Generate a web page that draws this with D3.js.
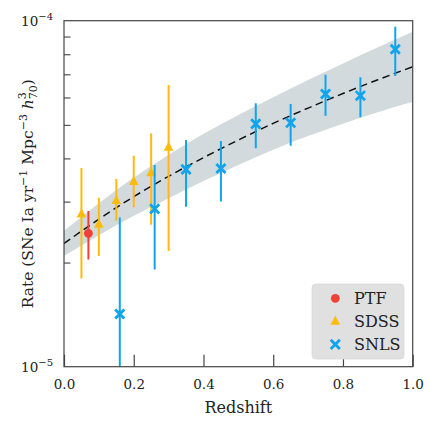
<!DOCTYPE html>
<html><head><meta charset="utf-8">
<script src="https://cdn.jsdelivr.net/npm/d3@7"></script>
<style>body{margin:0;background:#fff}svg{display:block}text{font-family:"DejaVu Serif",serif;fill:#222}</style>
</head><body><svg id="c" width="439" height="434"></svg>
<script>
// ---- data ----
const ptfZ=[0.07], ptfRate=[2.43e-5], ptfLo=[2.04e-5], ptfHi=[2.82e-5];
const sdssZ=[0.05,0.10,0.15,0.20,0.25,0.30];
const sdssRate=[2.77e-5,2.59e-5,3.03e-5,3.44e-5,3.65e-5,4.32e-5];
const sdssLo=[1.80e-5,2.09e-5,2.64e-5,2.89e-5,2.57e-5,2.16e-5];
const sdssHi=[3.75e-5,3.08e-5,3.49e-5,4.07e-5,4.73e-5,6.52e-5];
const snlsZ=[0.16,0.26,0.35,0.45,0.55,0.65,0.75,0.85,0.95];
const snlsRate=[1.42e-5,2.86e-5,3.72e-5,3.74e-5,5.03e-5,5.07e-5,6.14e-5,6.07e-5,8.27e-5];
const snlsLo=[0.80e-5,1.91e-5,2.90e-5,3.00e-5,4.28e-5,4.35e-5,5.31e-5,5.26e-5,6.92e-5];
const snlsHi=[2.70e-5,3.83e-5,4.52e-5,4.49e-5,5.77e-5,5.74e-5,6.98e-5,6.86e-5,9.61e-5];
const fitZ=[0,0.1,0.2,0.3,0.4,0.5,0.6,0.7,0.8,0.9,1.0];
const fitRate=[2.27e-5,2.67e-5,3.10e-5,3.55e-5,4.02e-5,4.52e-5,5.05e-5,5.59e-5,6.16e-5,6.75e-5,7.36e-5];
const bandLo=[2.09e-5,2.40e-5,2.73e-5,3.07e-5,3.44e-5,3.83e-5,4.24e-5,4.64e-5,5.04e-5,5.44e-5,5.83e-5];
const bandHi=[2.47e-5,2.97e-5,3.52e-5,4.10e-5,4.71e-5,5.34e-5,6.01e-5,6.74e-5,7.52e-5,8.38e-5,9.29e-5];
const xTicks=[0,0.2,0.4,0.6,0.8,1.0];
const yMajor=[1e-5,1e-4];
const yMajorExp=["\u22125","\u22124"];
const yMinor=[2e-5,3e-5,4e-5,5e-5,6e-5,7e-5,8e-5,9e-5];
const legendLabels=["PTF","SDSS","SNLS"];
const colors={PTF:"#ef4136",SDSS:"#fdbb0e",SNLS:"#10a4ec"};

// ---- layout ----
const L=64,R=412.7,T=20.7,B=366.7;
const svg=d3.select("#c");
const x=d3.scaleLinear().domain([0,1]).range([L,R]);
const y=d3.scaleLog().domain([1e-5,1e-4]).range([B,T]);

svg.append("defs").append("clipPath").attr("id","clip")
  .append("rect").attr("x",L).attr("y",T).attr("width",R-L).attr("height",B-T);
const plot=svg.append("g").attr("clip-path","url(#clip)");

// band
const bandData=fitZ.map((z,i)=>({z,lo:bandLo[i],hi:bandHi[i]}));
plot.append("path").datum(bandData)
  .attr("d",d3.area().x(d=>x(d.z)).y0(d=>y(d.lo)).y1(d=>y(d.hi)).curve(d3.curveMonotoneX))
  .attr("fill","#d3dadd");
// fit line
const fitData=fitZ.map((z,i)=>({z,r:fitRate[i]}));
plot.append("path").datum(fitData)
  .attr("d",d3.line().x(d=>x(d.z)).y(d=>y(d.r)).curve(d3.curveMonotoneX))
  .attr("fill","none").attr("stroke","#111").attr("stroke-width",1.5).attr("stroke-dasharray","7.5,4.5");

function series(zs,rs,los,his,name){
  const c=colors[name];
  const data=zs.map((z,i)=>({z,r:rs[i],lo:los[i],hi:his[i]}));
  const g=plot.append("g");
  g.selectAll("line.eb").data(data).join("line").attr("class","eb")
    .attr("x1",d=>x(d.z)).attr("x2",d=>x(d.z))
    .attr("y1",d=>y(d.lo)).attr("y2",d=>y(d.hi))
    .attr("stroke",c).attr("stroke-width",2);
  g.selectAll("g.m").data(data).join("g").attr("class","m")
    .attr("transform",d=>`translate(${x(d.z)},${y(d.r)})`)
    .each(function(){marker(d3.select(this),name);});
}
function marker(sel,name){
  const c=colors[name];
  if(name==="PTF") sel.append("circle").attr("r",4.4).attr("fill",c);
  else if(name==="SDSS") sel.append("path").attr("d","M0,-5.2L4.8,4L-4.8,4Z").attr("fill",c);
  else sel.append("path").attr("d","M-4.6,-4.6L4.6,4.6M-4.6,4.6L4.6,-4.6")
    .attr("stroke",c).attr("stroke-width",2.8).attr("fill","none");
}
series(sdssZ,sdssRate,sdssLo,sdssHi,"SDSS");
series(ptfZ,ptfRate,ptfLo,ptfHi,"PTF");
series(snlsZ,snlsRate,snlsLo,snlsHi,"SNLS");

// ---- axes ----
const axCol="#444";
const xAxis=svg.append("g").attr("transform",`translate(0,${B})`)
  .call(d3.axisBottom(x).tickValues(xTicks).tickSize(-12).tickPadding(13.2).tickFormat(d3.format(".1f")));
xAxis.select(".domain").remove();
xAxis.selectAll("line").attr("stroke",axCol).attr("stroke-width",1.2);
xAxis.selectAll("text").attr("font-size",13.5).attr("font-family","DejaVu Serif").attr("fill","#222");

const yMin=svg.append("g").attr("transform",`translate(${L},0)`)
  .call(d3.axisLeft(y).tickValues(yMinor).tickSize(-6.5).tickFormat(""));
yMin.select(".domain").remove();
yMin.selectAll("line").attr("stroke",axCol).attr("stroke-width",1.1);

const yMaj=svg.append("g");
yMajor.forEach((v,i)=>{
  const t=yMaj.append("text").attr("x",53).attr("y",y(v)+5.5).attr("text-anchor","end").attr("font-size",13.5);
  t.append("tspan").text("10");
  t.append("tspan").attr("font-size",10).attr("dy",-6.5).text(yMajorExp[i]);
});

svg.append("rect").attr("x",L).attr("y",T).attr("width",R-L).attr("height",B-T)
  .attr("fill","none").attr("stroke",axCol).attr("stroke-width",1.2);

// axis labels
svg.append("text").attr("x",(L+R)/2).attr("y",413).attr("text-anchor","middle").attr("font-size",16).text("Redshift");
const yl=svg.append("text").attr("transform",`translate(33,${(T+B)/2})rotate(-90)`).attr("text-anchor","middle").attr("font-size",15.5);
yl.append("tspan").text("Rate (SNe Ia yr");
yl.append("tspan").attr("font-size",11).attr("dy",-6.5).text("\u22121");
yl.append("tspan").attr("dy",6.5).text(" Mpc");
yl.append("tspan").attr("font-size",11).attr("dy",-6.5).text("\u22123");
yl.append("tspan").attr("dy",6.5).text(" ");
yl.append("tspan").attr("font-style","italic").text("h");
yl.append("tspan").attr("font-size",11).attr("dy",-7).text("3");
yl.append("tspan").attr("font-size",11).attr("dx",-7).attr("dy",11).text("70");
yl.append("tspan").attr("dy",-4).text(")");

// legend
const lg=svg.append("g");
lg.append("rect").attr("x",312).attr("y",284).attr("width",92).attr("height",75).attr("rx",4)
  .attr("fill","#e0e0e0").attr("stroke","#d8d8d8").attr("stroke-width",0.8);
const rowsY=[298.3,320.7,344.3];
legendLabels.forEach((name,i)=>{
  marker(lg.append("g").attr("transform",`translate(335.3,${rowsY[i]})`),name);
  lg.append("text").attr("x",354).attr("y",rowsY[i]+5.8).attr("font-size",16).text(name);
});
</script></body></html>
